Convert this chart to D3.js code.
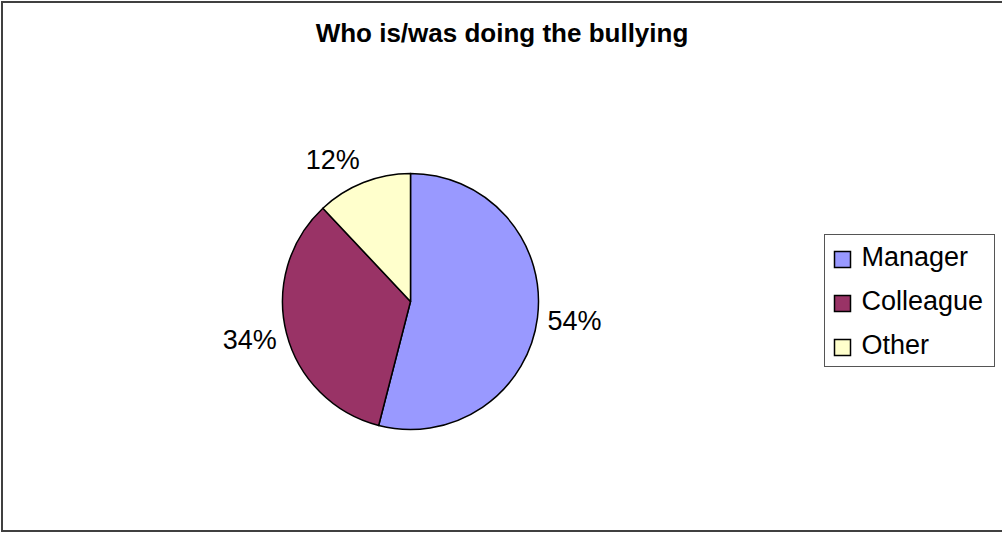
<!DOCTYPE html>
<html>
<head>
<meta charset="utf-8">
<script src="https://cdnjs.cloudflare.com/ajax/libs/d3/7.8.5/d3.min.js"></script>
<style>
  body { margin: 0; background: #fff; }
  svg { display: block; font-family: "Liberation Sans", Arial, sans-serif; }
</style>
</head>
<body>
<div id="chart"></div>
<script>
const title = "Who is/was doing the bullying";
const categories = ["Manager", "Colleague", "Other"];
const values = [54, 34, 12];
const colors = ["#9999FF", "#993366", "#FFFFCC"];

const width = 1002, height = 533;
const cx = 410.5, cy = 301.5, radius = 128;

const svg = d3.select("#chart")
  .append("svg")
  .attr("width", width)
  .attr("height", height);

// outer chart frame (right edge runs off the picture)
svg.append("rect")
  .attr("x", 2).attr("y", 2)
  .attr("width", 1010).attr("height", 529)
  .attr("fill", "#fff")
  .attr("stroke", "#404040")
  .attr("stroke-width", 2);

svg.append("text")
  .attr("x", 502)
  .attr("y", 41.5)
  .attr("text-anchor", "middle")
  .style("font-size", "26px")
  .style("font-weight", "bold")
  .text(title);

const data = categories.map((c, i) => ({ name: c, value: values[i], color: colors[i] }));

const pie = d3.pie()
  .sort(null)
  .value(d => d.value);

const arc = d3.arc().innerRadius(0).outerRadius(radius);
const labelR = radius + 10;

const g = svg.append("g").attr("transform", `translate(${cx},${cy})`);

const arcs = pie(data);

g.selectAll("path")
  .data(arcs)
  .enter().append("path")
    .attr("d", arc)
    .attr("fill", d => d.data.color)
    .attr("stroke", "#000")
    .attr("stroke-width", 1.5)
    .attr("stroke-linejoin", "round");

let fmt = d => d + "%";
let mid = d => (d.startAngle + d.endAngle) / 2;

// labels sit just outside the rim, anchored on the side facing away from the pie
g.selectAll("text.lbl")
  .data(arcs)
  .enter().append("text")
    .attr("class", "lbl")
    .attr("x", d => Math.sin(mid(d)) * labelR)
    .attr("y", d => -Math.cos(mid(d)) * labelR - Math.cos(mid(d)) * 15)
    .attr("dy", "0.36em")
    .attr("text-anchor", d => Math.sin(mid(d)) < 0 ? "end" : "start")
    .style("font-size", "27px")
    .text(d => fmt(d.data.value));

// legend
const legend = svg.append("g").attr("transform", "translate(824.5,234.5)");

legend.append("rect")
  .attr("width", 170)
  .attr("height", 132)
  .attr("fill", "#fff")
  .attr("stroke", "#555")
  .attr("stroke-width", 1);

const rows = legend.selectAll("g.row")
  .data(data)
  .enter().append("g")
    .attr("class", "row")
    .attr("transform", (d, i) => `translate(0,${31.5 + i * 44})`);

rows.append("rect")
  .attr("x", 10)
  .attr("y", -14.5)
  .attr("width", 16)
  .attr("height", 16)
  .attr("fill", d => d.color)
  .attr("stroke", "#000")
  .attr("stroke-width", 1.5);

rows.append("text")
  .attr("x", 37)
  .attr("y", 0)
  .style("font-size", "27px")
  .text(d => d.name);
</script>
</body>
</html>
